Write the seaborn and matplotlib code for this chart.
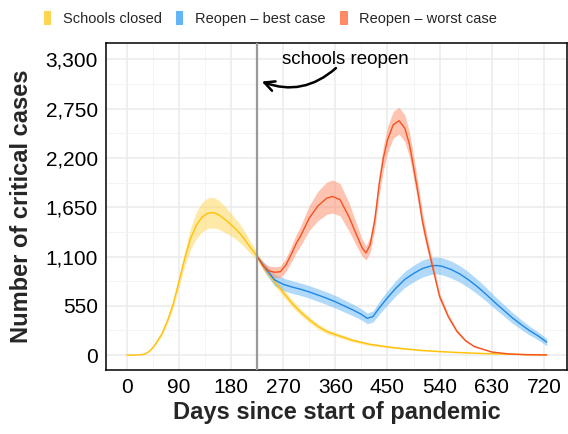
import numpy as np
import pandas as pd
import matplotlib
matplotlib.use("Agg")
import matplotlib.pyplot as plt
from matplotlib.patches import Patch
from matplotlib.ticker import FuncFormatter, MultipleLocator
import seaborn as sns

# ---------------- data ----------------
closed_days = [0, 10, 20, 30, 35, 40, 45, 50, 60, 70, 80, 90, 100, 110, 120, 130, 140, 150,
               160, 170, 180, 190, 200, 210, 224, 240, 255, 270, 285, 300, 315, 330, 345, 360,
               390, 420, 450, 480, 510, 540, 570, 600, 630, 660, 690, 725]
closed_vals = [0, 0, 2, 10, 25, 50, 85, 130, 230, 380, 570, 820, 1080, 1300, 1450, 1540, 1585, 1590,
               1560, 1510, 1455, 1395, 1320, 1230, 1110, 950, 820, 700, 580, 480, 395, 320, 265, 230,
               165, 120, 92, 70, 52, 40, 30, 22, 15, 10, 6, 4]
closed_hw = [0, 0, 0, 2, 4, 6, 10, 14, 22, 32, 45, 60, 85, 120, 150, 165, 170, 170,
             160, 145, 125, 110, 95, 75, 45, 45, 45, 42, 40, 36, 32, 28, 25, 22,
             18, 14, 11, 9, 7, 6, 5, 4, 3, 2, 2, 1]

best_days = [224, 240, 255, 270, 285, 300, 315, 330, 345, 360, 375, 390, 405, 415, 425, 435, 450,
             465, 480, 495, 510, 525, 535, 545, 560, 575, 590, 605, 620, 635, 650, 665, 680, 695,
             710, 725]
best_vals = [1110, 960, 840, 790, 760, 735, 705, 670, 635, 595, 550, 505, 455, 410, 430, 520, 640,
             750, 845, 910, 965, 995, 1000, 990, 955, 905, 840, 765, 680, 590, 505, 420, 345, 275,
             215, 145]
best_hw = [10, 50, 65, 70, 70, 70, 70, 70, 70, 70, 68, 65, 62, 60, 62, 70, 80,
           85, 90, 92, 95, 95, 95, 95, 95, 92, 88, 82, 76, 70, 65, 60, 55, 50,
           45, 40]

worst_days = [224, 235, 245, 255, 265, 275, 285, 292, 300, 315, 330, 345, 355, 368, 383, 398, 406,
              413, 420, 428, 436, 443, 450, 460, 470, 480, 488, 495, 503, 510, 517, 526, 540, 555,
              570, 585, 600, 630, 660, 690, 725]
worst_vals = [1110, 1000, 940, 925, 930, 1010, 1140, 1240, 1330, 1530, 1665, 1750, 1770, 1735, 1550,
              1320, 1200, 1140, 1230, 1500, 1920, 2200, 2400, 2570, 2615, 2530, 2350, 2100, 1800,
              1510, 1290, 1040, 654, 430, 265, 160, 96, 35, 13, 5, 2]
worst_hw = [10, 40, 55, 60, 65, 75, 90, 100, 110, 140, 165, 180, 185, 180, 160, 120, 95,
            80, 85, 100, 120, 135, 145, 150, 150, 150, 140, 130, 110, 95, 80, 65, 40, 28,
            18, 12, 8, 3, 1, 1, 1]

scenarios = ["Schools closed", "Reopen \u2013 best case", "Reopen \u2013 worst case"]
line_colors = ["#FFC107", "#1E88E5", "#F4511E"]
fill_colors = ["#FFD54F", "#64B5F6", "#FF8A65"]

x_ticks = [0, 90, 180, 270, 360, 450, 540, 630, 720]
y_ticks = [0, 550, 1100, 1650, 2200, 2750, 3300]
reopen_day = 224

# ---------------- build long table ----------------
series = [(closed_days, closed_vals, closed_hw),
          (best_days, best_vals, best_hw),
          (worst_days, worst_vals, worst_hw)]
frames = []
for name, (d, v, h) in zip(scenarios, series):
    frames.append(pd.DataFrame({"day": d, "cases": v, "hw": h, "scenario": name}))
df = pd.concat(frames, ignore_index=True)
df["lo"] = df["cases"] - df["hw"]
df["hi"] = df["cases"] + df["hw"]

# ---------------- plot ----------------
sns.set_theme(style="white")
plt.rcParams["font.family"] = ["Liberation Sans", "DejaVu Sans"]

fig = plt.figure(figsize=(5.68, 4.34), dpi=100)
ax = fig.add_axes([106 / 568, 64 / 434, 461 / 568, 327 / 434])

for name, fc in zip(scenarios, fill_colors):
    sub = df[df["scenario"] == name]
    ax.fill_between(sub["day"], sub["lo"], sub["hi"], color=fc, alpha=0.5, lw=0, zorder=2)

sns.lineplot(data=df, x="day", y="cases", hue="scenario", hue_order=scenarios,
             palette=line_colors, linewidth=1.0, ax=ax, legend=False, zorder=3, sort=True)

ax.axvline(reopen_day, color="#999999", lw=1.6, zorder=4)

ax.set_xlim(-36, 760)
ax.set_ylim(-166, 3482)
ax.set_xticks(x_ticks)
ax.set_yticks(y_ticks)
ax.xaxis.set_minor_locator(MultipleLocator(45))
ax.yaxis.set_minor_locator(MultipleLocator(275))
ax.yaxis.set_major_formatter(FuncFormatter(lambda v, p: f"{int(v):,}"))

ax.grid(which="major", color="#EBEBEB", lw=1.1, zorder=0)
ax.grid(which="minor", color="#F2F2F2", lw=0.6, zorder=0)
ax.set_axisbelow(True)
for s in ax.spines.values():
    s.set_color("black")
    s.set_linewidth(1.1)

ax.tick_params(axis="both", which="major", direction="out", length=4, width=0.9,
               color="black", labelsize=15, labelcolor="black", pad=2)
ax.tick_params(axis="both", which="minor", length=0)

ax.set_xlabel("Days since start of pandemic", fontsize=17, fontweight="bold", labelpad=3)
ax.set_ylabel("Number of critical cases", fontsize=17, fontweight="bold", labelpad=9)

# annotation
ax.annotate("", xy=(233, 3052), xytext=(361, 3202),
            arrowprops=dict(arrowstyle="->", connectionstyle="arc3,rad=-0.3",
                            lw=1.8, color="black", mutation_scale=18, shrinkA=0, shrinkB=0),
            zorder=5)
ax.text(378, 3300, "schools reopen", fontsize=13.5, ha="center", va="center", color="black", zorder=5)

handles = [Patch(facecolor=c, edgecolor="none") for c in fill_colors]
fig.legend(handles, scenarios, loc="upper center", bbox_to_anchor=(0.476, 1.005), ncol=3,
           frameon=False, fontsize=10.5, handlelength=0.5, handleheight=1.1,
           handletextpad=0.8, columnspacing=1.0)

fig.savefig("out.png", dpi=100)
